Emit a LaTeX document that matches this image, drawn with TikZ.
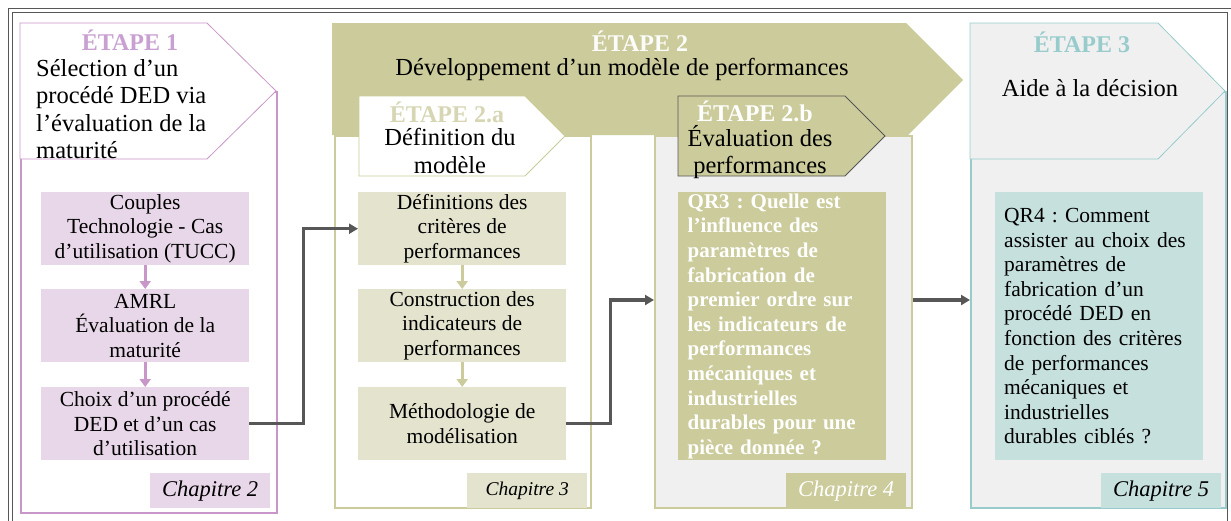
\documentclass[tikz,border=0pt]{standalone}
\usepackage{fontspec}
\setmainfont{Liberation Serif}
\usetikzlibrary{arrows.meta}
\frenchspacing
\definecolor{rose}{HTML}{C896C8}
\definecolor{roseclair}{HTML}{E8D7E8}
\definecolor{rosetitre}{HTML}{C9A0D2}
\definecolor{olive}{HTML}{CBCB9B}
\definecolor{oliveclair}{HTML}{E3E3CE}
\definecolor{olivetitre}{HTML}{D6D6B4}
\definecolor{gris}{HTML}{F0F0F0}
\definecolor{sarcelle}{HTML}{98CCCC}
\definecolor{sarcelleclair}{HTML}{C6E0DE}
\definecolor{fleche}{HTML}{575757}

\begin{document}
\begin{tikzpicture}[x=1pt, y=-1pt,
    cadre/.style={anchor=north west, inner sep=0pt, line width=2.2pt},
    boite/.style={anchor=north west, inner sep=0pt, minimum width=208,
      minimum height=73, align=center,
      font=\fontsize{21.5}{24.6}\selectfont},
    chap/.style={anchor=north west, inner sep=0pt, minimum width=120,
      minimum height=35, font=\fontsize{22.5}{24}\selectfont\itshape},
    titre/.style={inner sep=0pt, font=\fontsize{24}{26}\selectfont\bfseries},
    entete/.style={inner sep=0pt, align=center,
      font=\fontsize{24.5}{27.2}\selectfont},
    fin/.style={line width=0.8pt},
    pas/.style={line width=3pt, -{Triangle[length=8pt,width=11pt]}},
    lien/.style={draw=fleche, line width=3.2pt,
      -{Triangle[length=9pt,width=10pt]}}]
  \useasboundingbox (0,0) rectangle (1231,520);
  \draw [fleche, line width=0.9pt, double, double distance=2.5pt]
    (10.5,10.5) rectangle (1229.5,540);
  \coordinate (lvl) at (0,300);
  \node [cadre, draw=rose, fill=white, minimum width=256,
    minimum height=421] (c1) at (20,91) {};
  \node [cadre, draw=olive, fill=white, minimum width=256,
    minimum height=372] (c2a) at (334,135) {};
  \node [cadre, draw=olive, fill=gris, minimum width=257,
    minimum height=372] (c2b) at (654,135) {};
  \node [cadre, draw=sarcelle, fill=gris, minimum width=255,
    minimum height=416] (c3) at (970,91) {};
  \fill [olive] (332,23) -- (906,23) -- (963,80) -- (908,135) --
    (332,135) -- cycle;
  \draw [fin, rose, fill=white] (20,23) -- (207,23) -- (276,91) --
    (207,159) -- (20,159) -- cycle;
  \draw [fin, olive, fill=white] (359,96) -- (525,96) -- (565,136) --
    (525,176) -- (359,176) -- cycle;
  \draw [fin, fleche, fill=olive] (678,96) -- (845,96) -- (885,136) --
    (845,176) -- (678,176) -- cycle;
  \draw [fin, sarcelle, fill=gris] (970,23) -- (1158,23) -- (1225,91)
    -- (1158,159) -- (970,159) -- cycle;
  \node [titre, rosetitre] (t1) at (130,40) {ÉTAPE 1};
  \node [entete, align=left, anchor=west] (h1) at (36,109)
    {Sélection d’un\\procédé DED via\\l’évaluation de la\\maturité};
  \node [titre, white!95!olive] (t2) at (640,41) {ÉTAPE 2};
  \node [entete] (h2) at (622,69)
    {Développement d’un modèle de performances};
  \node [titre, olivetitre] (t2a) at (447,112) {ÉTAPE 2.a};
  \node [entete] (h2a) at (450,151) {Définition du\\modèle};
  \node [titre, white] (t2b) at (755,111) {ÉTAPE 2.b};
  \node [entete] (h2b) at (760,152) {Évaluation des\\performances};
  \node [titre, sarcelle] (t3) at (1082,42) {ÉTAPE 3};
  \node [entete] (h3) at (1090,88) {Aide à la décision};
  \node [boite, fill=roseclair] (b1) at (41,192)
    {Couples\\Technologie - Cas\\d’utilisation (TUCC)};
  \node [boite, fill=roseclair] (b2) at (41,289)
    {AMRL\\Évaluation de la\\maturité};
  \node [boite, fill=roseclair] (b3) at (41,387)
    {Choix d’un procédé\\DED et d’un cas\\d’utilisation};
  \node [chap, fill=roseclair] (ch2) at (150,473) {Chapitre 2};
  \node [boite, fill=oliveclair] (d1) at (358,192)
    {Définitions des\\critères de\\performances};
  \node [boite, fill=oliveclair] (d2) at (358,289)
    {Construction des\\indicateurs de\\performances};
  \node [boite, fill=oliveclair] (d3) at (358,387)
    {Méthodologie de\\modélisation};
  \node [chap, fill=oliveclair, font=\fontsize{19.5}{22}\selectfont\itshape]
    (ch3) at (467,473) {Chapitre 3};
  \node [boite, fill=olive, minimum height=268, align=left,
    text width=189, text=white, font=\fontsize{21}{24.6}\selectfont\bfseries]
    (q3) at (678,192) {QR3 : Quelle est\\l’influence des\\paramètres
    de\\fabrication de\\premier ordre sur\\les indicateurs de\\performances\\%
    mécaniques et\\industrielles\\durables pour une\\pièce donnée ?};
  \node [chap, fill=olive, text=white] (ch4) at (786,473) {Chapitre 4};
  \node [boite, fill=sarcelleclair, minimum height=268, align=left,
    text width=190] (q4) at (995,192) {QR4 : Comment\\assister au choix
    des\\paramètres de\\fabrication d’un\\procédé DED en\\fonction des
    critères\\de performances\\mécaniques et\\industrielles\\durables
    ciblés ?};
  \node [chap, fill=sarcelleclair] (ch5) at (1101,473) {Chapitre 5};
  \draw [pas, rose] (b1) -- (b2); \draw [pas, rose] (b2) -- (b3);
  \draw [pas, olive] (d1) -- (d2); \draw [pas, olive] (d2) -- (d3);
  \draw [lien] (b3.east) -- ++(54,0) |- (d1.west);
  \draw [lien] (d3.east) -- ++(44,0) |- (c2b.west |- lvl);
  \draw [lien] (c2b.east |- lvl) -- (c3.west |- lvl);
\end{tikzpicture}
\end{document}
